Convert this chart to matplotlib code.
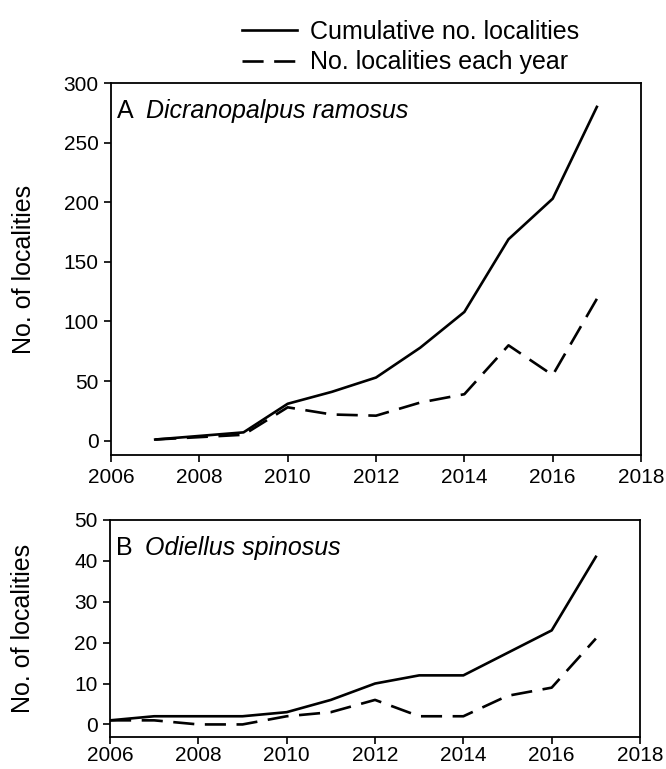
import matplotlib
matplotlib.use("Agg")
import matplotlib.pyplot as plt

plt.rcParams['font.family'] = ['Liberation Sans', 'DejaVu Sans']

# panel A - Dicranopalpus ramosus
years_a = [2007, 2008, 2009, 2010, 2011, 2012, 2013, 2014, 2015, 2016, 2017]
cum_a = [1, 4, 7, 31, 41, 53, 78, 108, 169, 203, 280]
each_a = [1, 3, 5, 28, 22, 21, 32, 39, 80, 55, 119]

# panel B - Odiellus spinosus
years_b = [2006, 2007, 2008, 2009, 2010, 2011, 2012, 2013, 2014, 2015, 2016, 2017]
cum_b = [1, 2, 2, 2, 3, 6, 10, 12, 12, 17.5, 23, 41]
each_b = [1, 1, 0, 0, 2, 3, 6, 2, 2, 7, 9, 21]

xticks = [2006, 2008, 2010, 2012, 2014, 2016, 2018]

fig = plt.figure(figsize=(6.66, 7.69), dpi=100)
ax1 = fig.add_axes([0.1667, 0.4083, 0.7958, 0.4837])
ax2 = fig.add_axes([0.1652, 0.042, 0.7958, 0.2818])

lw = 1.9
dash = (0, (8, 4))

l1, = ax1.plot(years_a, cum_a, color='black', lw=lw, label='Cumulative no. localities')
l2, = ax1.plot(years_a, each_a, color='black', lw=lw, linestyle=dash, label='No. localities each year')
ax1.set_ylim(-12, 300)
ax1.set_yticks([0, 50, 100, 150, 200, 250, 300])

ax2.plot(years_b, cum_b, color='black', lw=lw)
ax2.plot(years_b, each_b, color='black', lw=lw, linestyle=dash)
ax2.set_ylim(-3, 50)
ax2.set_yticks([0, 10, 20, 30, 40, 50])

for ax in (ax1, ax2):
    ax.set_xlim(2006, 2018)
    ax.set_xticks(xticks)
    ax.tick_params(direction='out', length=5, width=1.2, labelsize=15, pad=4)
    for s in ax.spines.values():
        s.set_linewidth(1.3)
    ax.set_ylabel('No. of localities', fontsize=18)
    ax.yaxis.set_label_coords(-0.142, 0.5)
ax2.tick_params(axis='x', pad=1.5)

ax1.text(0.012, 0.925, 'A', transform=ax1.transAxes, fontsize=18, va='center')
ax1.text(0.066, 0.925, 'Dicranopalpus ramosus', transform=ax1.transAxes, fontsize=18,
         va='center', style='italic')
ax2.text(0.012, 0.87, 'B', transform=ax2.transAxes, fontsize=18, va='center')
ax2.text(0.066, 0.87, 'Odiellus spinosus', transform=ax2.transAxes, fontsize=18,
         va='center', style='italic')

fig.legend(handles=[l1, l2], loc='upper left', bbox_to_anchor=(0.345, 0.99),
           frameon=False, fontsize=18, handlelength=2.2, handletextpad=0.5,
           labelspacing=0.25, borderaxespad=0.1)

fig.savefig('out.png', dpi=100)
